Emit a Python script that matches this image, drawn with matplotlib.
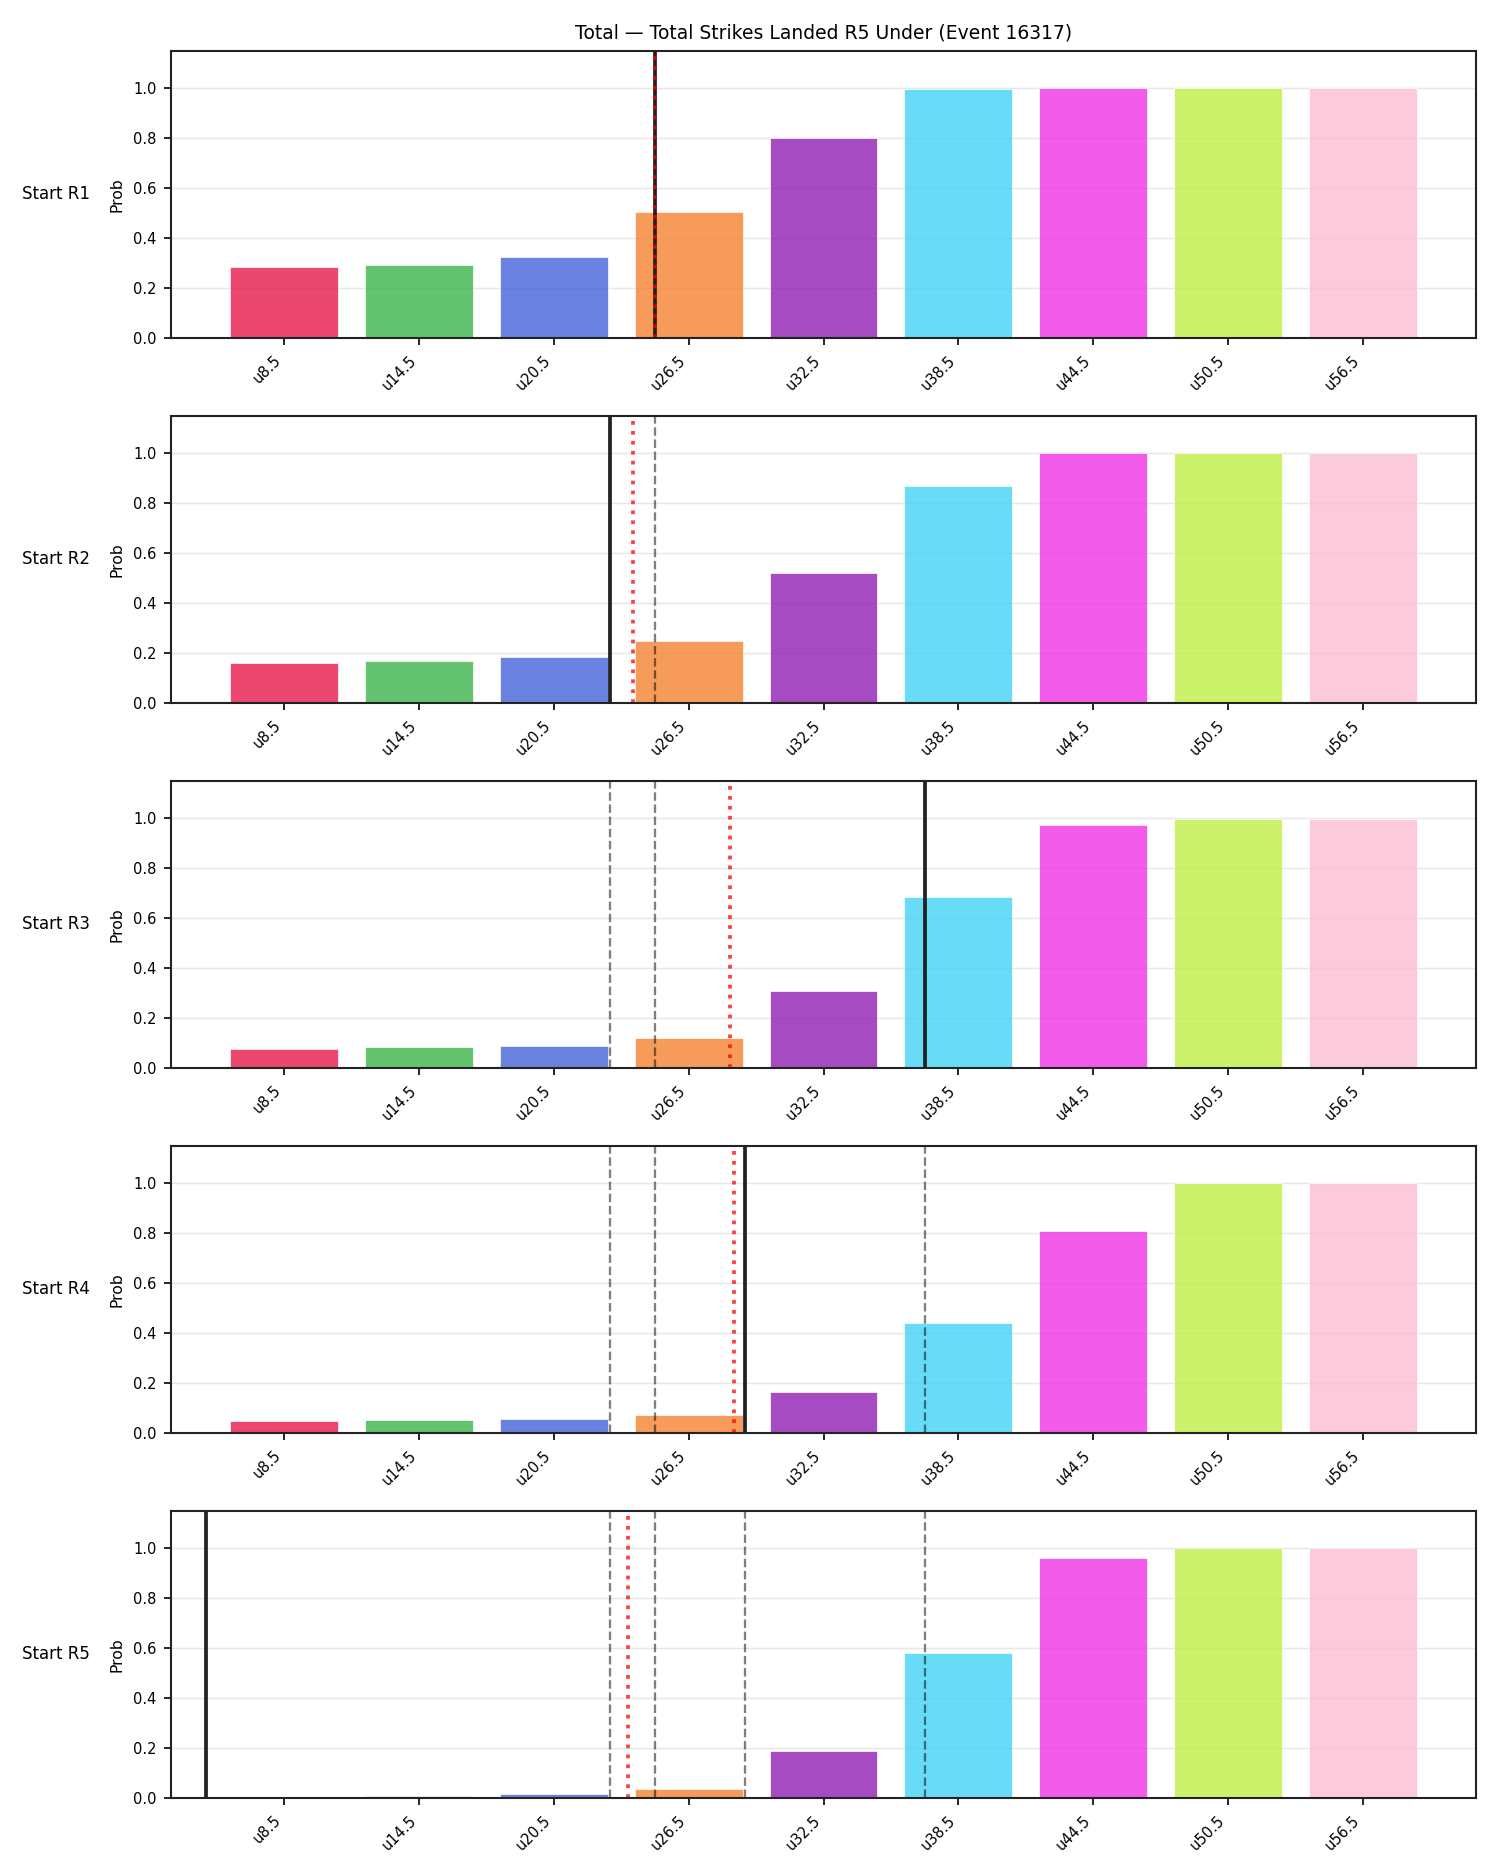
import matplotlib
matplotlib.use("Agg")
import matplotlib.pyplot as plt

# under lines and their colours
lines = [8.5, 14.5, 20.5, 26.5, 32.5, 38.5, 44.5, 50.5, 56.5]
labels = ["u8.5", "u14.5", "u20.5", "u26.5", "u32.5", "u38.5", "u44.5", "u50.5", "u56.5"]
colors = ["#e6194b", "#3cb44b", "#4363d8", "#f58231", "#911eb4",
          "#42d4f4", "#f032e6", "#bfef45", "#fabed4"]

starts = ["Start R1", "Start R2", "Start R3", "Start R4", "Start R5"]

# probability of going under, per starting round
prob_r1 = [0.283, 0.292, 0.323, 0.503, 0.801, 0.995, 1.0, 1.0, 1.0]
prob_r2 = [0.159, 0.167, 0.183, 0.247, 0.519, 0.869, 1.0, 1.0, 1.0]
prob_r3 = [0.077, 0.083, 0.089, 0.121, 0.310, 0.683, 0.971, 0.997, 0.998]
prob_r4 = [0.047, 0.052, 0.058, 0.071, 0.163, 0.441, 0.807, 1.0, 1.0]
prob_r5 = [0.003, 0.010, 0.017, 0.036, 0.188, 0.582, 0.962, 0.999, 1.0]
probs = [prob_r1, prob_r2, prob_r3, prob_r4, prob_r5]

# strikes landed in each round, and running mean
round_strikes = [25, 23, 37, 29, 5]
running_mean = [25, 24, 28.33, 28.5, 23.8]

fig, axes = plt.subplots(5, 1, figsize=(10, 12.5), dpi=150)
fig.subplots_adjust(left=0.114, right=0.984, top=0.973, bottom=0.041, hspace=0.27)

for i, ax in enumerate(axes):
    ax.bar(lines, probs[i], width=4.8, color=colors, alpha=0.8,
           edgecolor="white", linewidth=0.4)
    xl = ax.get_xlim()
    # previous rounds
    for prev in round_strikes[:i]:
        ax.axvline(prev, color="black", linestyle="--", linewidth=1.1, alpha=0.5)
    ax.axvline(round_strikes[i], color="#222222", linewidth=1.8)
    ax.axvline(running_mean[i], color="red", linestyle=":", linewidth=1.8, alpha=0.75)
    ax.set_xlim(xl)
    ax.set_ylim(0, 1.15)
    ax.set_xticks(lines)
    ax.set_xticklabels(labels, rotation=45, ha="right", fontsize=7)
    ax.tick_params(axis="y", labelsize=7)
    ax.set_ylabel("Prob", fontsize=7.5)
    ax.grid(axis="y", color="#dddddd", alpha=0.7, linewidth=0.7)
    ax.set_axisbelow(True)
    for sp in ax.spines.values():
        sp.set_linewidth(1.0)
        sp.set_color("#222222")
    ax.text(-0.062, 0.5, starts[i], transform=ax.transAxes,
            ha="right", va="center", fontsize=8)

axes[0].set_title("Total \u2014 Total Strikes Landed R5 Under (Event 16317)", fontsize=9)

plt.savefig("out.png")
